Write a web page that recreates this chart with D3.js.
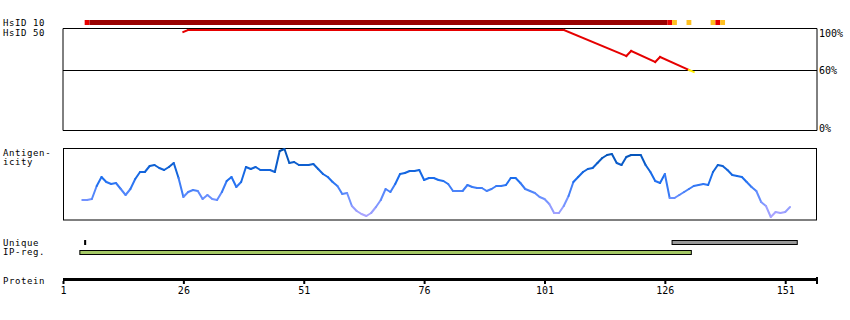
<!DOCTYPE html>
<html>
<head>
<meta charset="utf-8">
<script src="https://cdn.jsdelivr.net/npm/d3@7"></script>
<style>
  body { margin: 0; background: #fff; }
  text { font-family: "DejaVu Sans Mono", monospace; font-size: 10px; fill: #000; }
  text.lbl { font-size: 9px; letter-spacing: 0.6px; }
</style>
</head>
<body>
<script>
// protein axis
const proteinEnd = 157.6;
const tickValues = [1, 26, 51, 76, 101, 126, 151];

// HsID 10 residue runs
const hsid10Start = [6, 7, 127, 128, 131, 136, 137, 138];
const hsid10End   = [6, 126, 127, 128, 131, 136, 137, 138];
const hsid10Level = ["red", "dark", "red", "orange", "orange", "orange", "red", "orange"];

// HsID 50 identity line (residue, %)
const hsid50Res = [26, 27, 105, 118, 119, 124, 125, 131, 132];
const hsid50Pct = [98, 100, 100, 74, 79, 68, 73, 60, 58];
const pctTicks = [100, 60, 0];

// Antigenicity, residues 5..152
const antigenStart = 5;
const antigenValues = [
  20, 20, 21, 34, 43, 38, 36, 37, 31, 25,
  31, 41, 48, 48, 54, 55, 52, 50, 53, 57,
  42, 23, 28, 30, 29, 21, 25, 21, 20, 28,
  39, 43, 33, 38, 53, 51, 53, 50, 50, 50,
  48, 69, 71, 57, 58, 55, 55, 55, 56, 51,
  46, 43, 38, 34, 26, 27, 14, 9, 6, 4,
  7, 13, 20, 31, 28, 36, 46, 47, 49, 49,
  50, 40, 42, 42, 40, 39, 36, 29, 29, 29,
  35, 33, 32, 32, 29, 31, 34, 34, 35, 42,
  42, 37, 31, 29, 27, 23, 21, 16, 7, 7,
  14, 24, 38, 43, 48, 51, 52, 57, 62, 65,
  66, 57, 55, 63, 65, 65, 65, 55, 48, 39,
  37, 46, 22, 22, 25, 28, 31, 34, 35, 36,
  35, 48, 55, 54, 50, 45, 44, 43, 38, 33,
  29, 18, 14, 3, 8, 7, 8, 13
];

// Unique and IP regions (residue boundaries)
const uniqueFrom = [5.5, 127.5];
const uniqueTo   = [5.5, 153.5];
const ipFrom = [4.5];
const ipTo   = [131.5];

const width = 850, height = 320;

let svg = d3.select("body").append("svg")
  .attr("width", width)
  .attr("height", height);

let x = d3.scaleLinear().domain([1, proteinEnd]).range([63, 817]);
let left = x(1), right = x(proteinEnd);

// ---- labels on the left
function label(txt, y) {
  svg.append("text").attr("class", "lbl").attr("x", 3).attr("y", y).text(txt);
}
label("HsID 10", 26);
label("HsID 50", 36);
label("Antigen-", 155.5);
label("icity", 164.5);
label("Unique", 246);
label("IP-reg.", 255);
label("Protein", 284);

// ---- HsID 10 bar
let hsColor = { dark: "#990000", red: "#e60000", orange: "#ffc020" };
svg.selectAll(".hs10")
  .data(hsid10Start.map((s, i) => ({ s: s, e: hsid10End[i], c: hsid10Level[i] })))
  .enter().append("rect")
    .attr("x", d => x(d.s - 0.5))
    .attr("width", d => x(d.e + 0.5) - x(d.s - 0.5))
    .attr("y", 20)
    .attr("height", 5)
    .attr("fill", d => hsColor[d.c]);

// ---- HsID 50 frame
let yPct = d3.scaleLinear().domain([0, 100]).range([130, 30]);
svg.append("path")
  .attr("d", `M${left},${yPct(0) + 0.5}V28.5H${right}V${yPct(0) + 0.5}H${left}`)
  .attr("fill", "none").attr("stroke", "#000");
svg.selectAll(".pctline")
  .data(pctTicks.filter(p => p > 0 && p < 100))
  .enter().append("line")
    .attr("x1", left).attr("x2", right)
    .attr("y1", d => yPct(d) + 0.5).attr("y2", d => yPct(d) + 0.5)
    .attr("stroke", "#000");
svg.selectAll(".pctlabel")
  .data(pctTicks)
  .enter().append("text")
    .attr("x", right + 2)
    .attr("y", d => Math.min(Math.max(yPct(d) + 4, 36.5), 131.5))
    .text(d => d + "%");

let hsSegs = [];
for (let i = 0; i < hsid50Res.length - 1; i++) {
  hsSegs.push({ r0: hsid50Res[i], r1: hsid50Res[i + 1], p0: hsid50Pct[i], p1: hsid50Pct[i + 1] });
}
svg.selectAll(".hs50")
  .data(hsSegs)
  .enter().append("line")
    .attr("x1", d => x(d.r0)).attr("x2", d => x(d.r1))
    .attr("y1", d => yPct(d.p0)).attr("y2", d => yPct(d.p1))
    .attr("stroke", d => d.p1 >= 60 ? "#e60000" : "#ffee00")
    .attr("stroke-width", 2)
    .attr("stroke-linecap", "square");

// ---- Antigenicity
let yAnt = d3.scaleLinear().domain([0, 72]).range([220, 148]);
svg.append("rect")
  .attr("x", left + 0.5).attr("y", 148.5)
  .attr("width", right - left - 1).attr("height", 71.5)
  .attr("fill", "none").attr("stroke", "#000");

let antColor = d3.scaleLinear()
  .domain([5, 22, 40, 70])
  .range(["#aaa4ff", "#6a90ff", "#1c6ef0", "#0050b0"])
  .clamp(true);

let antSegs = [];
for (let i = 0; i < antigenValues.length - 1; i++) {
  antSegs.push({ r: antigenStart + i, v0: antigenValues[i], v1: antigenValues[i + 1] });
}
svg.selectAll(".ant")
  .data(antSegs)
  .enter().append("line")
    .attr("x1", d => x(d.r)).attr("x2", d => x(d.r + 1))
    .attr("y1", d => yAnt(d.v0)).attr("y2", d => yAnt(d.v1))
    .attr("stroke", d => antColor((d.v0 + d.v1) / 2))
    .attr("stroke-width", 2)
    .attr("stroke-linecap", "round");

// ---- Unique / IP-reg bars
svg.selectAll(".uniq")
  .data(uniqueFrom.map((f, i) => ({ f: f, t: uniqueTo[i] })))
  .enter().append("rect")
    .attr("x", d => x(d.f))
    .attr("width", d => Math.max(x(d.t) - x(d.f), 1))
    .attr("y", 240.5).attr("height", 4)
    .attr("fill", d => d.t - d.f > 0 ? "#999999" : "#000")
    .attr("stroke", "#000");

svg.selectAll(".ip")
  .data(ipFrom.map((f, i) => ({ f: f, t: ipTo[i] })))
  .enter().append("rect")
    .attr("x", d => x(d.f))
    .attr("width", d => x(d.t) - x(d.f))
    .attr("y", 250.5).attr("height", 4)
    .attr("fill", "#a4c865")
    .attr("stroke", "#000");

// ---- Protein axis
svg.append("line")
  .attr("x1", left).attr("x2", right)
  .attr("y1", 279.5).attr("y2", 279.5)
  .attr("stroke", "#000").attr("stroke-width", 3);

let axisG = svg.append("g")
  .attr("transform", "translate(0,281)")
  .call(d3.axisBottom(x).tickValues(tickValues).tickSize(3).tickSizeOuter(0).tickFormat(d3.format("d")));
axisG.select(".domain").remove();
axisG.attr("font-family", null).attr("font-size", null);
axisG.selectAll(".tick line").attr("stroke-width", 2);
axisG.selectAll(".tick text").attr("y", 6);

svg.append("line")
  .attr("x1", right).attr("x2", right)
  .attr("y1", 277).attr("y2", 284)
  .attr("stroke", "#000").attr("stroke-width", 2);
</script>
</body>
</html>
